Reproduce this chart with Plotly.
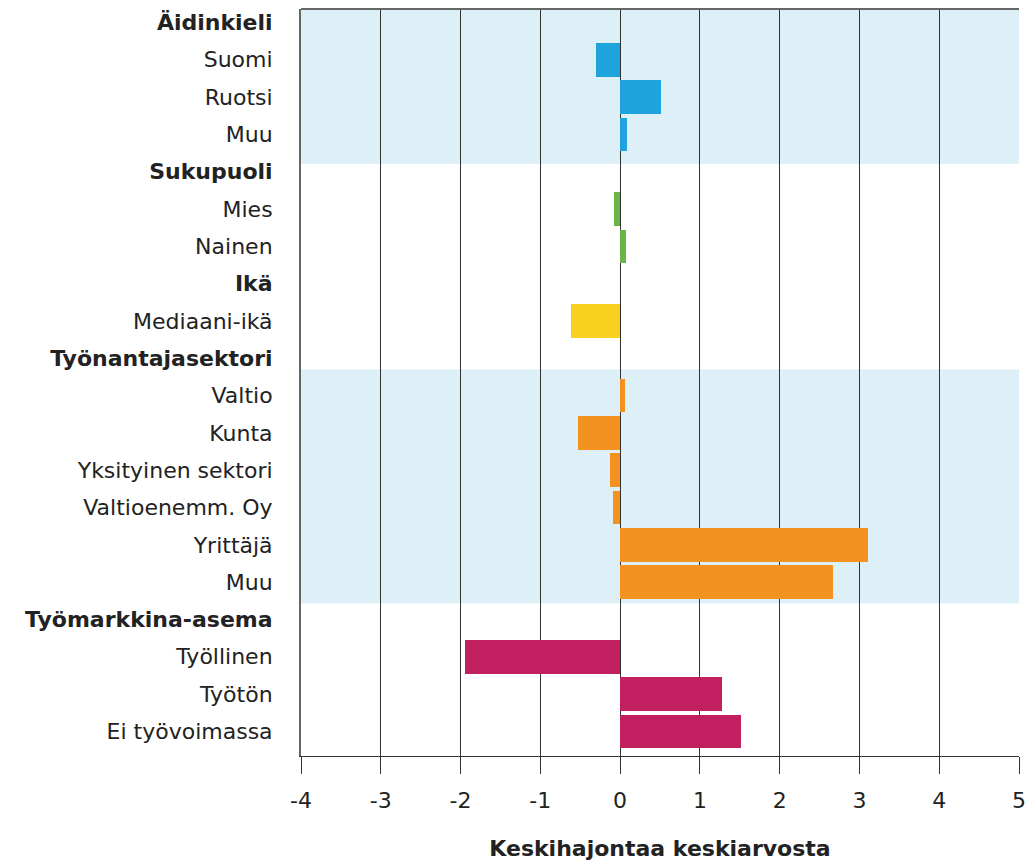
import plotly.graph_objects as go

labels = ["<b>Äidinkieli</b>", "Suomi", "Ruotsi", "Muu",
          "<b>Sukupuoli</b>", "Mies", "Nainen",
          "<b>Ikä</b>", "Mediaani-ikä",
          "<b>Työnantajasektori</b>", "Valtio", "Kunta", "Yksityinen sektori",
          "Valtioenemm. Oy", "Yrittäjä", "Muu",
          "<b>Työmarkkina-asema</b>", "Työllinen", "Työtön", "Ei työvoimassa"]
values = [None, -0.30, 0.51, 0.09,
          None, -0.075, 0.07,
          None, -0.62,
          None, 0.055, -0.53, -0.13, -0.09, 3.11, 2.67,
          None, -1.94, 1.28, 1.52]
group_of_row = ["a", "a", "a", "a", "s", "s", "s", "i", "i",
                "t", "t", "t", "t", "t", "t", "t", "m", "m", "m", "m"]
group_colors = {"a": "#1fa3dc", "s": "#6ab545", "i": "#f8d020",
                "t": "#f39220", "m": "#c21f61"}
x_ticks = [-4, -3, -2, -1, 0, 1, 2, 3, 4, 5]

rows = list(range(len(labels)))
colors = [group_colors[g] for g in group_of_row]

fig = go.Figure()
fig.add_trace(go.Bar(
    y=rows, x=values, orientation="h",
    marker=dict(color=colors, line=dict(width=0)),
    width=0.9, showlegend=False, hoverinfo="x+y",
))

band = "#ddf0f8"
# Äidinkieli band: from plot top to just below last row of group
fig.add_shape(type="rect", xref="paper", yref="y", x0=0, x1=1,
              y0=-0.36, y1=3 + 0.79, fillcolor=band, line_width=0, layer="below")
# Työnantajasektori band
fig.add_shape(type="rect", xref="paper", yref="y", x0=0, x1=1,
              y0=10 - 0.7, y1=15 + 0.57, fillcolor=band, line_width=0, layer="below")
# top border
fig.add_shape(type="line", xref="paper", yref="paper", x0=0, x1=1, y0=1, y1=1,
              line=dict(color="#666666", width=2))

fig.update_layout(
    width=1035, height=862,
    margin=dict(l=293, r=24, t=1, b=114, autoexpand=False),
    paper_bgcolor="white", plot_bgcolor="white",
    font=dict(family="DejaVu Sans", size=22, color="#222222"),
    bargap=0,
)
fig.update_xaxes(
    range=[-4, 5], tickvals=x_ticks, ticktext=[str(v) for v in x_ticks],
    showgrid=True, gridcolor="#333333", gridwidth=1,
    zeroline=False,
    showline=True, linecolor="#333333", linewidth=1,
    ticks="outside", ticklen=17, tickcolor="#333333", tickwidth=1,
    tickfont=dict(size=22), ticklabelstandoff=8,
    title=dict(text="<b>Keskihajontaa keskiarvosta</b>", font=dict(size=22), standoff=28),
    layer="above traces", automargin=False,
)
fig.update_yaxes(
    range=[19.66, -0.36], tickvals=rows, ticktext=labels,
    showgrid=False, zeroline=False,
    showline=True, linecolor="#666666", linewidth=2,
    ticks="", ticklabelstandoff=22, automargin=False,
)

fig.write_html("out.html")
